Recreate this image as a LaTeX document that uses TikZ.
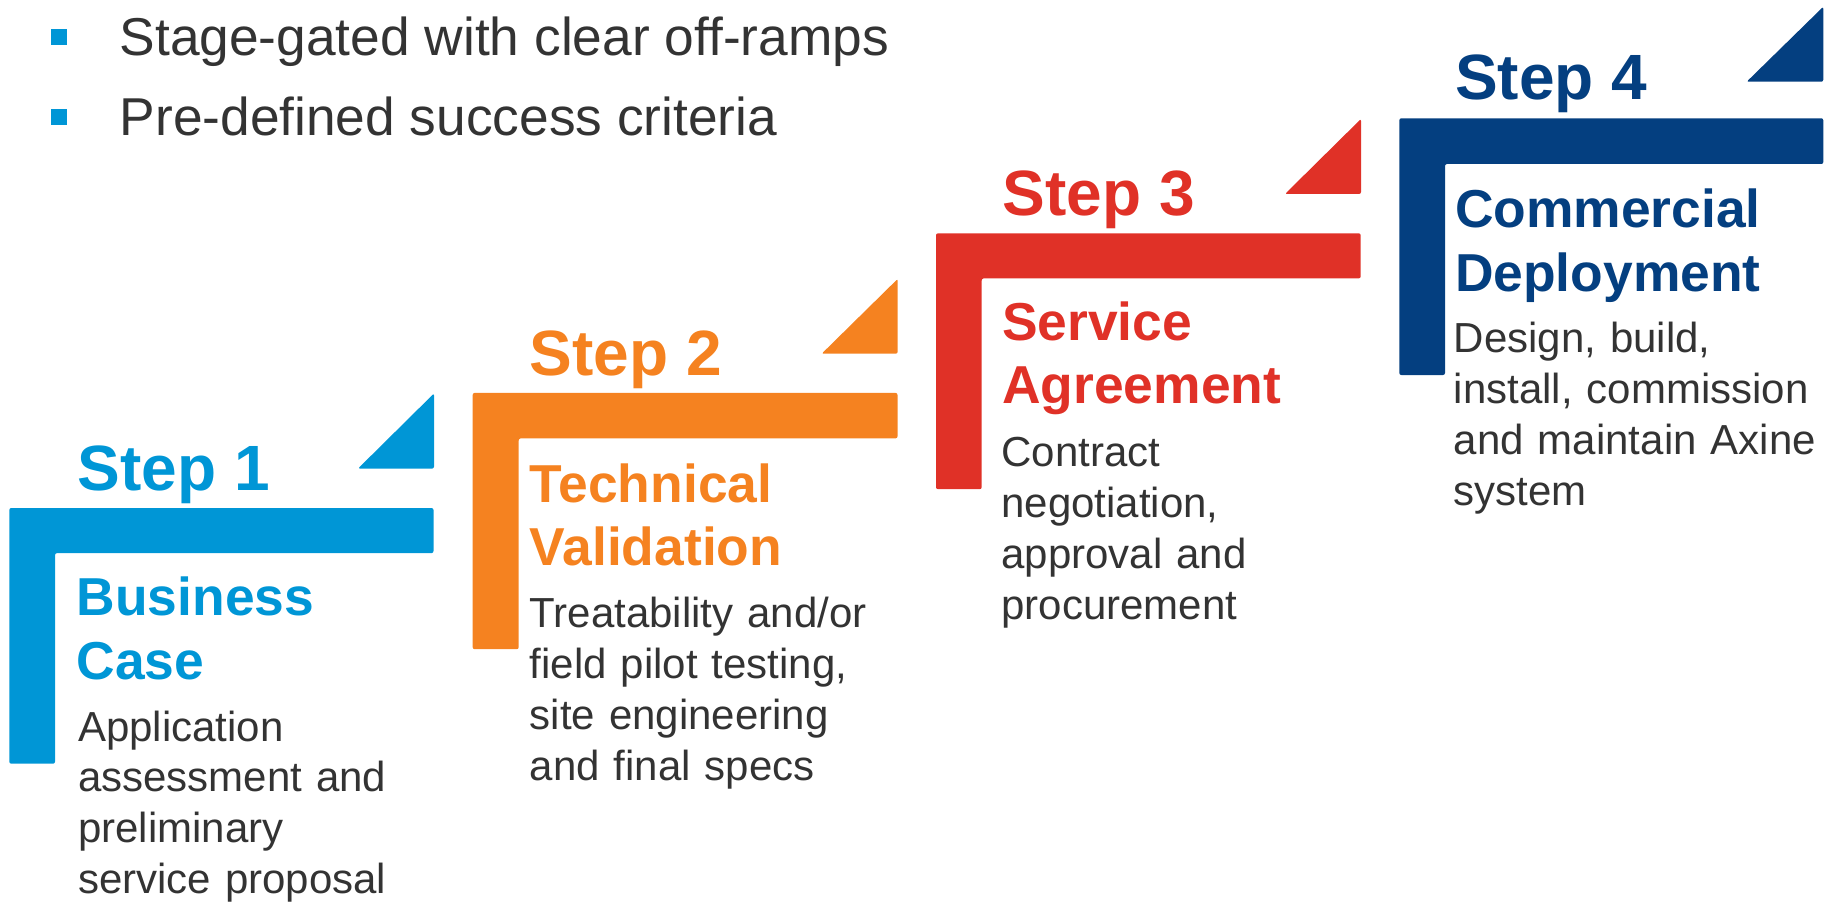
\documentclass[tikz,border=0pt]{standalone}
\usepackage{fontspec}
\setmainfont{Liberation Sans}
\definecolor{stepblue}{HTML}{0096D6}
\definecolor{steporange}{HTML}{F58220}
\definecolor{stepred}{HTML}{E03127}
\definecolor{stepnavy}{HTML}{043F80}
\definecolor{bodygray}{HTML}{333333}

\begin{document}
\begin{tikzpicture}[x=1pt,y=-1pt,
  steplabel/.style={anchor=base west, inner sep=0pt, font=\bfseries\fontsize{64}{64}\selectfont},
  heading/.style={anchor=base west, inner sep=0pt, text width=460pt, align=left,
    font=\bfseries\fontsize{53.4}{63.5}\selectfont},
  body/.style={anchor=base west, inner sep=0pt, text width=440pt, align=left,
    text=bodygray, font=\fontsize{42}{50.8}\selectfont},
  bullettext/.style={anchor=base west, inner sep=0pt, text=bodygray,
    font=\fontsize{53.3}{53.3}\selectfont},
  bulletbox/.style={fill=stepblue},
  stair/.style={rounded corners=2pt},
  flag/.style={rounded corners=2pt},
]
\useasboundingbox (0,0) rectangle (1833,904);

% bullet list
\fill[bulletbox] (51,29) rectangle (67,45);
\fill[bulletbox] (51,108.7) rectangle (67,124.7);
\node[bullettext] (b1) at (119.5,56) {Stage-gated with clear off-ramps};
\node[bullettext] (b2) at (119.5,136) {Pre-defined success criteria};

% step 1
\fill[stepblue, stair] (9.3,508) -- (433.5,508) -- (433.5,553.1) -- (55,553.1)
  -- (55,763.7) -- (9.3,763.7) -- cycle;
\fill[stepblue, flag] (358,468.6) -- (434,468.6) -- (434,393.4) -- cycle;
\node[steplabel, text=stepblue] (s1label) at (77.7,490.3) {Step 1};
\node[heading, text=stepblue] (s1head) at (76.5,615.6) {Business\\Case};
\node[body] (s1body) at (78,741) {Application\\assessment and\\preliminary\\service proposal};

% step 2
\fill[steporange, stair] (472.7,392.9) -- (897.5,392.9) -- (897.5,438.4) -- (518.7,438.4)
  -- (518.7,649.2) -- (472.7,649.2) -- cycle;
\fill[steporange, flag] (821.7,353.7) -- (897.7,353.7) -- (897.7,278.9) -- cycle;
\node[steplabel, text=steporange] (s2label) at (529.5,375.4) {Step 2};
\node[heading, text=steporange] (s2head) at (529.7,502.1) {Technical\\Validation};
\node[body] (s2body) at (529.5,627.8) {Treatability and/or\\field pilot testing,\\site engineering\\and final specs};

% step 3
\fill[stepred, stair] (936,233.3) -- (1360.7,233.3) -- (1360.7,278.4) -- (981.7,278.4)
  -- (981.7,489.2) -- (936,489.2) -- cycle;
\fill[stepred, flag] (1285,194) -- (1361,194) -- (1361,118.9) -- cycle;
\node[steplabel, text=stepred] (s3label) at (1002.7,215.4) {Step 3};
\node[heading, text=stepred] (s3head) at (1002,340) {Service\\Agreement};
\node[body] (s3body) at (1001.3,466.8) {Contract\\negotiation,\\approval and\\procurement};

% step 4
\fill[stepnavy, stair] (1399.3,118.3) -- (1823.3,118.3) -- (1823.3,164) -- (1445,164)
  -- (1445,375) -- (1399.3,375) -- cycle;
\fill[stepnavy, flag] (1746.7,81.7) -- (1823.3,81.7) -- (1823.3,6.7) -- cycle;
\node[steplabel, text=stepnavy] (s4label) at (1455,99.3) {Step 4};
\node[heading, text=stepnavy] (s4head) at (1454.8,227.7) {Commercial\\Deployment};
\node[body] (s4body) at (1453.7,352.7) {Design, build,\\install, commission\\and maintain Axine\\system};
\end{tikzpicture}
\end{document}
